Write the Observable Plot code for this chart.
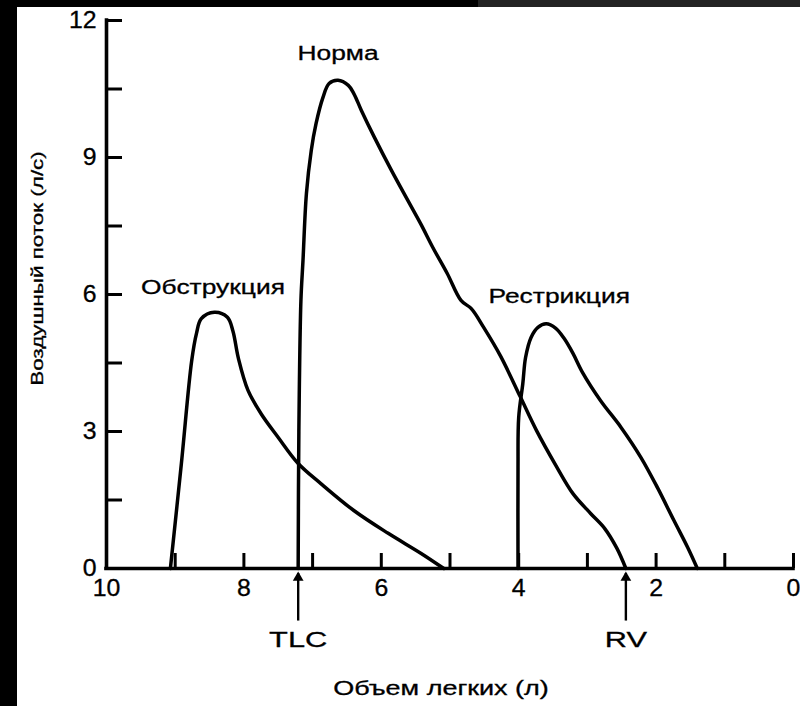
<!DOCTYPE html>
<html><head><meta charset="utf-8">
<script src="https://cdn.jsdelivr.net/npm/d3@7"></script>
<script src="https://cdn.jsdelivr.net/npm/@observablehq/plot@0.6"></script>
<style>
html,body{margin:0;padding:0;background:#fff;}
#wrap{position:relative;width:800px;height:706px;overflow:hidden;background:#fff;}
#chart{position:absolute;left:0;top:0;}
.strip{position:absolute;}
</style></head><body>
<div id="wrap"><div id="chart"></div>
<div class="strip" style="left:0;top:0;width:17px;height:706px;background:#000"></div>
<div class="strip" style="left:0;top:0;width:480px;height:7px;background:#000"></div>
<div class="strip" style="left:478px;top:0;width:322px;height:7px;background:#232323"></div>
</div>
<script>
// Lung volume (L) and airflow (L/s)
const obstructionVol  = [9.07, 8.91, 8.76, 8.69, 8.62, 8.43, 8.24, 8.16, 8.08, 7.94, 7.75, 7.50, 7.21, 6.88, 6.40, 5.90, 5.42, 5.09];
const obstructionFlow = [0.00, 2.30, 4.55, 5.15, 5.47, 5.61, 5.50, 5.20, 4.60, 3.90, 3.39, 2.87, 2.30, 1.86, 1.27, 0.77, 0.33, 0.00];

const normVol  = [7.21, 7.20, 7.17, 7.14, 7.09, 7.02, 6.95, 6.85, 6.76, 6.63, 6.48, 6.40, 6.29, 6.10, 5.86, 5.61, 5.42, 5.25, 5.04, 4.84, 4.69, 4.51, 4.26, 3.98, 3.74, 3.46, 3.21, 2.95, 2.75, 2.57, 2.44];
const normFlow = [0.00, 3.00, 5.87, 6.74, 8.21, 9.15, 9.74, 10.31, 10.62, 10.69, 10.58, 10.40, 10.03, 9.44, 8.74, 8.05, 7.53, 7.03, 6.46, 5.87, 5.69, 5.28, 4.64, 3.77, 3.02, 2.26, 1.64, 1.20, 0.88, 0.44, 0.00];

const restrictionVol  = [4.01, 4.01, 4.00, 3.94, 3.90, 3.82, 3.72, 3.60, 3.46, 3.34, 3.21, 3.07, 2.81, 2.51, 2.22, 1.98, 1.74, 1.54, 1.40];
const restrictionFlow = [0.00, 2.21, 3.31, 4.05, 4.62, 5.06, 5.28, 5.36, 5.26, 5.04, 4.71, 4.29, 3.68, 3.09, 2.43, 1.77, 1.05, 0.46, 0.00];

const seriesNames = ["Обструкция", "Норма", "Рестрикция"];
const labelVol  = [8.45, 6.63, 3.41];
const labelFlow = [6.15, 11.28, 5.96];

const markerNames = ["TLC", "RV"];
const markerVol   = [7.21, 2.44];

const xTickLabels = [10, 8, 6, 4, 2, 0];
const xTicks      = [9, 8, 7, 6, 5, 4, 3, 2, 1, 0];
const yTickLabels = [0, 3, 6, 9, 12];
const yTicks      = [1.5, 3, 4.5, 6, 7.5, 9, 10.5, 12];

const xTitle = "Объем легких (л)";
const yTitle = "Воздушный поток (л/с)";

// build table
const curves = [
  [seriesNames[0], obstructionVol, obstructionFlow],
  [seriesNames[1], normVol, normFlow],
  [seriesNames[2], restrictionVol, restrictionFlow]
].flatMap(([s, V, F]) => V.map((v, i) => ({s, v, f: F[i]})));
const labels = seriesNames.map((s, i) => ({s, v: labelVol[i], f: labelFlow[i]}));
const markers = markerNames.map((s, i) => ({s, v: markerVol[i]}));

const W = 800, H = 706, ML = 106, MR = 7, MT = 20, MB = 138;
const frameW = W - ML - MR, frameH = H - MT - MB;
const FONT = "'Liberation Sans', Arial, Helvetica, sans-serif";
const ARROW_TOP = -0.1, ARROW_BOTTOM = -1.14, HEAD = -0.2;

const chart = Plot.plot({
  width: W, height: H,
  marginLeft: ML, marginRight: MR, marginTop: MT, marginBottom: MB,
  style: {fontFamily: FONT, background: "transparent", color: "#000"},
  x: {domain: [10, 0], axis: null},
  y: {domain: [0, 12], axis: null},
  marks: [
    Plot.line(curves, {x: "v", y: "f", z: "s", curve: "catmull-rom", stroke: "#000", strokeWidth: 3.5, strokeLinejoin: "round", strokeLinecap: "round"}),
    // axes lines
    Plot.ruleX([10], {stroke: "#000", strokeWidth: 3.6, strokeLinecap: "square"}),
    Plot.ruleY([0], {stroke: "#000", strokeWidth: 3.6, strokeLinecap: "square"}),
    // inward ticks
    Plot.tickY(yTicks, {y: d => d, stroke: "#000", strokeWidth: 3, insetRight: frameW - 16}),
    Plot.tickX(xTicks, {x: d => d, stroke: "#000", strokeWidth: 3, insetTop: frameH - 15}),
    // tick labels
    Plot.axisY({ticks: yTickLabels, tickSize: 0, tickPadding: 10, tickFormat: d => String(d), fontSize: 23, label: null}),
    Plot.axisX({ticks: xTickLabels, tickSize: 0, tickPadding: 11, tickFormat: d => String(d), fontSize: 23, label: null}),
    // curve labels
    Plot.text(labels, {x: "v", y: "f", text: "s", fontSize: 20, fill: "#000"}),
    // TLC / RV arrows
    Plot.link(markers, {x1: "v", x2: "v", y1: ARROW_BOTTOM, y2: ARROW_TOP, stroke: "#000", strokeWidth: 2.4}),
    Plot.dot(markers, {x: "v", y: HEAD, symbol: "triangle", r: 4, fill: "#000", stroke: "none"}),
    Plot.text(markers, {x: "v", frameAnchor: "bottom", textAnchor: "middle", lineAnchor: "middle", dy: 71, text: "s", fontSize: 22, fill: "#000"}),
    // axis titles
    Plot.text([xTitle], {frameAnchor: "bottom", textAnchor: "middle", lineAnchor: "middle", dx: -9, dy: 120, text: d => d, fontSize: 20, fill: "#000"}),
    Plot.text([yTitle], {frameAnchor: "left", textAnchor: "middle", lineAnchor: "middle", rotate: -90, dx: -69, dy: -26, text: d => d, fontSize: 17, fill: "#000"})
  ]
});

// widen glyphs to match the reference typeface
const STRETCH_DIGITS = 1.08;
chart.querySelectorAll("text").forEach(t => {
  const txt = t.textContent.trim();
  const s = /^[\d.\-−]+$/.test(txt) ? STRETCH_DIGITS : (txt === "TLC" || txt === "RV") ? 1.4 : txt === xTitle ? 1.35 : 1.32;
  const tr = t.getAttribute("transform");
  if (tr) t.setAttribute("transform", tr + ` scale(${s},1)`);
  else {
    const x = +t.getAttribute("x") || 0, y = +t.getAttribute("y") || 0;
    t.setAttribute("transform", `translate(${x},${y}) scale(${s},1) translate(${-x},${-y})`);
  }
  t.setAttribute("stroke", "#000");
  t.setAttribute("stroke-width", "0.3");
});
document.getElementById("chart").appendChild(chart);
</script>
</body></html>
